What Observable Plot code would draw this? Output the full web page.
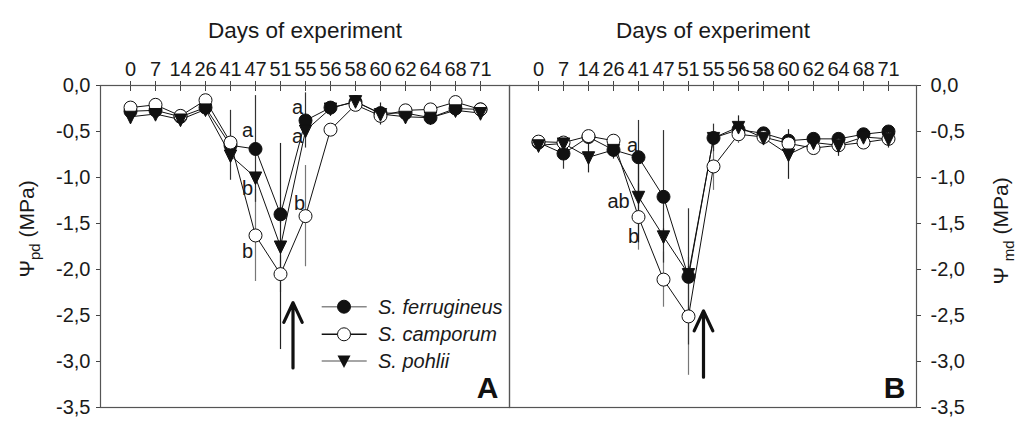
<!DOCTYPE html>
<html><head><meta charset="utf-8">
<script src="https://cdn.jsdelivr.net/npm/d3@7"></script>
<script src="https://cdn.jsdelivr.net/npm/@observablehq/plot@0.6"></script>
<style>
body{margin:0;background:#fff}
#chart{position:relative;width:1020px;height:421px;overflow:hidden}
#chart svg{position:absolute;top:0}
</style></head>
<body><div id="chart"></div>
<script>
const FONT = '"Liberation Sans", Arial, Helvetica, sans-serif';
const days = ["0","7","14","26","41","47","51","55","56","58","60","62","64","68","71"];
const species = ["S. ferrugineus","S. camporum","S. pohlii"];
const yTicks = [0,-0.5,-1,-1.5,-2,-2.5,-3,-3.5];

// Panel A: predawn water potential (MPa)
const pdFerrugineus    = [-0.28,-0.27,-0.34,-0.24,-0.65,-0.69,-1.40,-0.38,-0.24,-0.18,-0.30,-0.30,-0.35,-0.25,-0.26];
const pdFerrugineusErr = [0.03,0.03,0.03,0.04,0.38,0.58,0.10,0.30,0.06,0.04,0.04,0.04,0.04,0.04,0.03];
const pdCamporum       = [-0.24,-0.21,-0.33,-0.16,-0.62,-1.63,-2.05,-1.42,-0.48,-0.21,-0.33,-0.27,-0.26,-0.18,-0.26];
const pdCamporumErr    = [0.03,0.03,0.03,0.03,0.05,0.50,0.20,0.55,0.05,0.03,0.04,0.03,0.03,0.03,0.03];
const pdPohlii         = [-0.34,-0.31,-0.37,-0.26,-0.76,-1.00,-1.75,-0.49,-0.25,-0.17,-0.31,-0.34,-0.35,-0.27,-0.30];
const pdPohliiErr      = [0.03,0.03,0.03,0.04,0.06,0.06,1.12,0.06,0.05,0.05,0.12,0.04,0.05,0.04,0.04];

// Panel B: midday water potential (MPa)
const mdFerrugineus    = [-0.62,-0.74,-0.56,-0.70,-0.78,-1.21,-2.08,-0.57,-0.48,-0.52,-0.60,-0.58,-0.58,-0.53,-0.50];
const mdFerrugineusErr = [0.05,0.17,0.05,0.06,0.40,0.72,0.74,0.15,0.05,0.05,0.05,0.06,0.06,0.05,0.05];
const mdCamporum       = [-0.61,-0.62,-0.55,-0.60,-1.43,-2.11,-2.51,-0.88,-0.53,-0.56,-0.63,-0.68,-0.65,-0.62,-0.58];
const mdCamporumErr    = [0.04,0.05,0.04,0.05,0.36,0.30,0.64,0.26,0.10,0.05,0.05,0.05,0.05,0.05,0.05];
const mdPohlii         = [-0.65,-0.63,-0.78,-0.70,-1.21,-1.64,-2.05,-0.57,-0.45,-0.57,-0.75,-0.62,-0.65,-0.56,-0.58];
const mdPohliiErr      = [0.05,0.05,0.17,0.10,0.50,0.08,0.08,0.06,0.12,0.08,0.27,0.08,0.12,0.06,0.10];

// significance letters: day, value position, letter
const lettersA = [
  {day:"47", y:-0.49, t:"a"}, {day:"47", y:-1.12, t:"b"}, {day:"47", y:-1.81, t:"b"},
  {day:"55", y:-0.24, t:"a"}, {day:"55", y:-0.55, t:"a"}, {day:"55", y:-1.28, t:"b"}
];
const lettersB = [
  {day:"41", y:-0.65, t:"a"}, {day:"41", y:-1.26, t:"ab"}, {day:"41", y:-1.64, t:"b"}
];
const arrowA = [{day:"51", y1:-3.07, y2:-2.36}];
const arrowB = [{day:"51", y1:-3.17, y2:-2.45}];

function toRows(vals, errs, sp) {
  return days.map((d, i) => ({day: d, species: sp, value: vals[i], err: errs[i]}));
}

const triangleDown = {
  draw(context, size) {
    const k = Math.sqrt(size / Math.PI);
    const w = k * 0.95, t = -k * 0.85, b = k * 1.1;
    context.moveTo(-w, t);
    context.lineTo(w, t);
    context.lineTo(0, b);
    context.closePath();
  }
};

const fmt = d => d.toFixed(1).replace(".", ",");
const FS = 20;

function panel({width, marginLeft, marginRight, yAnchor, tickPadY, fer, cam, poh, letters, arrow, arrowDx, panelLetter}) {
  const rf = toRows(fer[0], fer[1], species[0]);
  const rc = toRows(cam[0], cam[1], species[1]);
  const rp = toRows(poh[0], poh[1], species[2]);
  const errMark = (rows, stroke) => Plot.ruleX(rows, {x: "day", y1: d => d.value - d.err, y2: d => d.value + d.err, stroke, strokeWidth: 1.2});
  return Plot.plot({
    width, height: 421, marginTop: 85, marginBottom: 14, marginLeft, marginRight,
    style: {fontFamily: FONT, fontSize: FS + "px", color: "#1a1a1a", background: "transparent", overflow: "visible"},
    x: {type: "point", domain: days, padding: 1},
    y: {domain: [-3.5, 0]},
    marks: [
      Plot.axisX({anchor: "top", tickSize: 5, tickPadding: 5, label: null, stroke: "#444", fontSize: FS}),
      Plot.axisX({anchor: "top", tickSize: -5, tickFormat: () => "", label: null, stroke: "#444"}),
      Plot.axisY(yTicks, {anchor: yAnchor, tickSize: 4, tickPadding: tickPadY, tickFormat: fmt, label: null, stroke: "#444", fontSize: FS}),
      Plot.text(["Days of experiment"], {frameAnchor: "top", dy: -63, fontSize: 22.5, fill: "#1a1a1a"}),
      Plot.frame({stroke: "#555", strokeWidth: 1.2}),
      errMark(rc, "#777"),
      errMark(rf, "#333"),
      errMark(rp, "#222"),
      Plot.line(rc, {x: "day", y: "value", stroke: "#111", strokeWidth: 1}),
      Plot.line(rf, {x: "day", y: "value", stroke: "#111", strokeWidth: 1}),
      Plot.line(rp, {x: "day", y: "value", stroke: "#111", strokeWidth: 1}),
      Plot.dot(rf, {x: "day", y: "value", r: 6.5, fill: "#111", stroke: "#111", strokeWidth: 1}),
      Plot.dot(rc, {x: "day", y: "value", r: 6.5, fill: "white", stroke: "#111", strokeWidth: 1}),
      Plot.dot(rp, {x: "day", y: "value", r: 6.5, symbol: triangleDown, fill: "#111", stroke: "#111", strokeWidth: 1}),
      Plot.text(letters, {x: "day", y: "y", text: "t", fontSize: 20, fill: "#1a1a1a"}),
      Plot.arrow(arrow, {x1: "day", x2: "day", y1: "y1", y2: "y2", dx: arrowDx, stroke: "#111", strokeWidth: 3.2, headLength: 18, headAngle: 50}),
      Plot.text([panelLetter], {frameAnchor: "bottom-right", dx: -11, dy: -10, textAnchor: "end", lineAnchor: "bottom", fontSize: 30, fontWeight: "bold", fill: "#111"})
    ]
  });
}

const chart = document.getElementById("chart");

const svgA = panel({
  width: 510, marginLeft: 100, marginRight: 1, yAnchor: "left", tickPadY: 6,
  fer: [pdFerrugineus, pdFerrugineusErr], cam: [pdCamporum, pdCamporumErr], poh: [pdPohlii, pdPohliiErr],
  letters: lettersA, arrow: arrowA, arrowDx: 12.5, panelLetter: "A"
});
const svgB = panel({
  width: 511, marginLeft: 0, marginRight: 104, yAnchor: "right", tickPadY: 10,
  fer: [mdFerrugineus, mdFerrugineusErr], cam: [mdCamporum, mdCamporumErr], poh: [mdPohlii, mdPohliiErr],
  letters: lettersB, arrow: arrowB, arrowDx: 15, panelLetter: "B"
});
svgA.style.left = "0px";
svgB.style.left = "509px";
chart.appendChild(svgA);
chart.appendChild(svgB);

function shiftLetters(svg, offsets) {
  const texts = d3.select(svg).selectAll("text").filter(function() {
    return ["a","b","ab"].includes(this.textContent);
  });
  texts.each(function(_, i) { d3.select(this).attr("dx", offsets[i]); });
}
shiftLetters(svgA, [-8, -8, -8, -8, -8, -6]);
shiftLetters(svgB, [-6, -20, -5]);

// y-axis titles with subscript
function yTitle(svg, x, y, sub, gap) {
  const t = d3.select(svg).append("text")
    .attr("transform", `translate(${x},${y}) rotate(-90)`)
    .attr("text-anchor", "middle")
    .attr("font-family", FONT).attr("font-size", 21).attr("fill", "#1a1a1a");
  t.append("tspan").text("\u03A8" + gap);
  t.append("tspan").attr("font-size", 15).attr("dy", 6).text(sub);
  t.append("tspan").attr("dy", -6).text(" (MPa)");
}
yTitle(svgA, 34, 229, "pd", "");
yTitle(svgB, 1008 - 509, 231, "md", " ");

// legend in panel A
const lg = d3.select(svgA).append("g").attr("font-family", FONT).attr("text-anchor", "start");
const rowsY = [306.7, 334.3, 361];
const lineCol = ["#888", "#111", "#888"];
species.forEach((s, i) => {
  const y = rowsY[i];
  lg.append("line").attr("x1", 321.7).attr("x2", 366.7).attr("y1", y).attr("y2", y).attr("stroke", lineCol[i]).attr("stroke-width", 1.5);
  if (i < 2) {
    lg.append("circle").attr("cx", 344).attr("cy", y).attr("r", 6.5).attr("fill", i === 0 ? "#111" : "white").attr("stroke", "#111");
  } else {
    lg.append("path").attr("d", `M${344-6.5},${y-5.5}L${344+6.5},${y-5.5}L344,${y+7}Z`).attr("fill", "#111");
  }
  lg.append("text").attr("x", 378).attr("y", y).attr("dy", "0.35em").attr("text-anchor", "start")
    .attr("font-size", 20).attr("font-style", "italic").attr("fill", "#1a1a1a").text(s);
});
</script>
</body></html>
